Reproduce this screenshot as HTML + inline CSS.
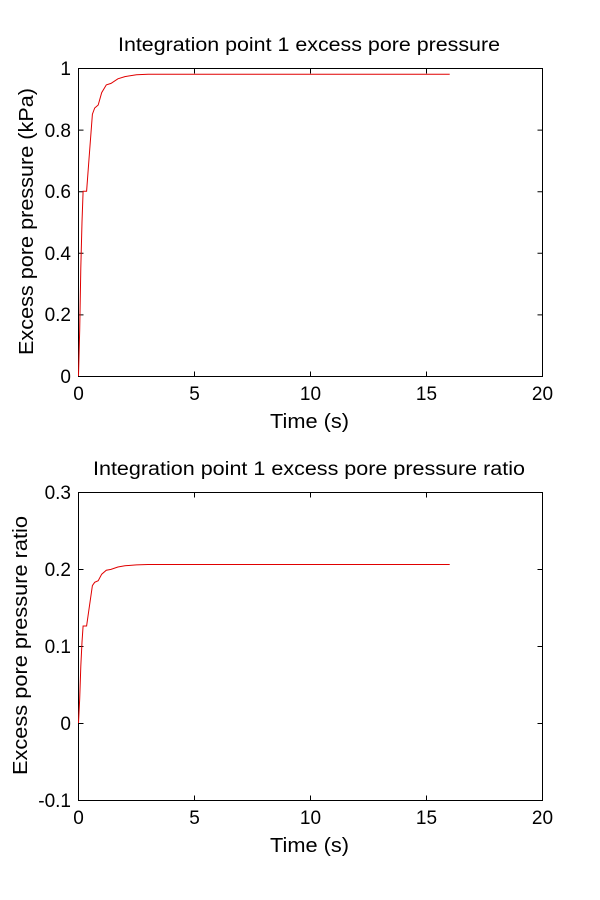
<!DOCTYPE html>
<html><head><style>body{margin:0;background:#fff}svg{display:block}text{font-family:"Liberation Sans",Arial,sans-serif;fill:#000}</style></head>
<body>
<svg width="600" height="900" viewBox="0 0 600 900" xmlns="http://www.w3.org/2000/svg">
<rect width="600" height="900" fill="#fff"/>
<g stroke="#000" stroke-width="1" fill="none">
<rect x="78.5" y="68.5" width="464" height="308"/>
<rect x="78.5" y="492.5" width="464" height="308"/>
<path d="M194.5 376.5v-5M310.5 376.5v-5M426.5 376.5v-5M194.5 68.5v5M310.5 68.5v5M426.5 68.5v5
M78.5 314.9h5M78.5 253.3h5M78.5 191.7h5M78.5 130.1h5M542.5 314.9h-5M542.5 253.3h-5M542.5 191.7h-5M542.5 130.1h-5
M194.5 800.5v-5M310.5 800.5v-5M426.5 800.5v-5M194.5 492.5v5M310.5 492.5v5M426.5 492.5v5
M78.5 723.5h5M78.5 646.5h5M78.5 569.5h5M542.5 723.5h-5M542.5 646.5h-5M542.5 569.5h-5"/>
</g>
<g stroke="#e00000" stroke-width="1" fill="none">
<polyline points="78.5,376 79.7,329.8 80.8,268.2 82,222 83.1,191.2 86.6,191.2 88.9,160.4 92.4,114.2 94.7,108 98.2,105 101.7,92.6 106.3,84.9 111,83.4 117.9,78.8 124.9,76.6 136.5,74.8 148.1,74.2 449.7,74.2"/>
<polyline points="78.5,723 79.7,698.7 80.8,666.4 82,642.2 83.1,626 86.6,626 88.9,609.8 92.4,585.6 94.7,582.3 98.2,580.7 101.7,574.2 106.3,570.2 111,569.4 117.9,567 124.9,565.8 136.5,564.9 148.1,564.5 449.7,564.5"/>
</g>
<g font-size="19">
<text x="118" y="51" font-size="19" textLength="382" lengthAdjust="spacingAndGlyphs">Integration point 1 excess pore pressure</text>
<text x="93" y="475" font-size="19" textLength="432" lengthAdjust="spacingAndGlyphs">Integration point 1 excess pore pressure ratio</text>
<g text-anchor="middle">
<text x="78.5" y="400">0</text><text x="194.5" y="400">5</text><text x="310.5" y="400">10</text><text x="426.5" y="400">15</text><text x="542.5" y="400">20</text>
<text x="270" y="428" text-anchor="start" font-size="20" textLength="79" lengthAdjust="spacingAndGlyphs">Time (s)</text>
<text x="78.5" y="824">0</text><text x="194.5" y="824">5</text><text x="310.5" y="824">10</text><text x="426.5" y="824">15</text><text x="542.5" y="824">20</text>
<text x="270" y="852" text-anchor="start" font-size="20" textLength="79" lengthAdjust="spacingAndGlyphs">Time (s)</text>
</g>
<g text-anchor="end">
<text x="71" y="383">0</text><text x="71" y="321">0.2</text><text x="71" y="260">0.4</text><text x="71" y="198">0.6</text><text x="71" y="137">0.8</text><text x="71" y="75">1</text>
<text x="71" y="807">-0.1</text><text x="71" y="730">0</text><text x="71" y="653">0.1</text><text x="71" y="576">0.2</text><text x="71" y="499">0.3</text>
</g>
<text transform="translate(33,355) rotate(-90)" font-size="20" textLength="267" lengthAdjust="spacingAndGlyphs">Excess pore pressure (kPa)</text>
<text transform="translate(27,775) rotate(-90)" font-size="20" textLength="259" lengthAdjust="spacingAndGlyphs">Excess pore pressure ratio</text>
</g>
</svg>
</body></html>
